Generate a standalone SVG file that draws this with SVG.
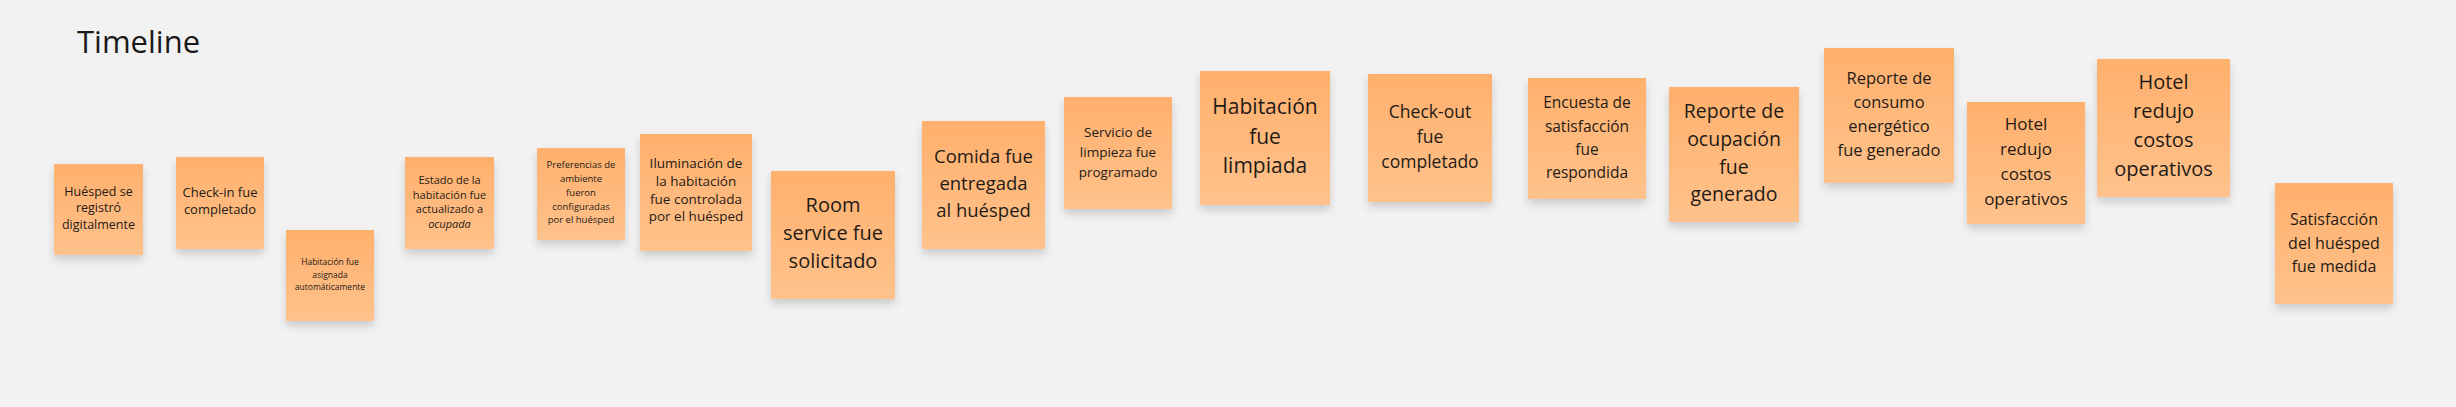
<svg xmlns="http://www.w3.org/2000/svg" width="2456" height="407" viewBox="0 0 2456 407">
<defs>
<linearGradient id="g" x1="0" y1="0" x2="0" y2="1">
<stop offset="0" stop-color="#ffb06c"/>
<stop offset="1" stop-color="#ffc28c"/>
</linearGradient>
<filter id="sh" x="-20%" y="-20%" width="140%" height="150%">
<feDropShadow dx="0" dy="5" stdDeviation="4" flood-color="#000" flood-opacity="0.16"/>
</filter>
</defs>
<style>
.n{fill:url(#g);filter:url(#sh)}
text{font-family:"Open Sans","Noto Sans","DejaVu Sans",sans-serif;fill:#1f1b17;text-anchor:middle}
.t{text-anchor:start;fill:#1a1a1a}
</style>
<rect width="2456" height="407" fill="#f2f2f2"/>
<text class="t" x="77" y="53" font-size="31">Timeline</text>
<g id="connectors"/>
<g id="n1"><rect class="n" x="54" y="164" width="89" height="91"/><text font-size="12.5"><tspan x="98.5" y="196">Huésped se</tspan><tspan x="98.5" y="212">registró</tspan><tspan x="98.5" y="229">digitalmente</tspan></text></g>
<g id="n2"><rect class="n" x="176" y="157" width="88" height="92"/><text font-size="13"><tspan x="220" y="197">Check-in fue</tspan><tspan x="220" y="214">completado</tspan></text></g>
<g id="n3"><rect class="n" x="286" y="230" width="88" height="91"/><text font-size="8.5"><tspan x="330" y="265">Habitación fue</tspan><tspan x="330" y="277.5">asignada</tspan><tspan x="330" y="290">automáticamente</tspan></text></g>
<g id="n4"><rect class="n" x="405" y="157" width="89" height="92"/><text font-size="11"><tspan x="449.5" y="184">Estado de la</tspan><tspan x="449.5" y="198.5">habitación fue</tspan><tspan x="449.5" y="213">actualizado a</tspan><tspan x="449.5" y="227.5" font-style="italic">ocupada</tspan></text></g>
<g id="n5"><rect class="n" x="537" y="148" width="88" height="92"/><text font-size="9.5"><tspan x="581" y="168">Preferencias de</tspan><tspan x="581" y="182">ambiente</tspan><tspan x="581" y="196">fueron</tspan><tspan x="581" y="210">configuradas</tspan><tspan x="581" y="223">por el huésped</tspan></text></g>
<g id="n6"><rect class="n" x="640" y="134" width="112" height="117"/><text font-size="13.5"><tspan x="696" y="168">Iluminación de</tspan><tspan x="696" y="186">la habitación</tspan><tspan x="696" y="204">fue controlada</tspan><tspan x="696" y="221">por el huésped</tspan></text></g>
<g id="n7"><rect class="n" x="771" y="171" width="124" height="128"/><text font-size="20"><tspan x="833" y="212">Room</tspan><tspan x="833" y="240">service fue</tspan><tspan x="833" y="268">solicitado</tspan></text></g>
<g id="n8"><rect class="n" x="922" y="121" width="123" height="128"/><text font-size="18.5"><tspan x="983.5" y="163">Comida fue</tspan><tspan x="983.5" y="190">entregada</tspan><tspan x="983.5" y="217">al huésped</tspan></text></g>
<g id="n9"><rect class="n" x="1064" y="97" width="108" height="112"/><text font-size="13.5"><tspan x="1118" y="137">Servicio de</tspan><tspan x="1118" y="157">limpieza fue</tspan><tspan x="1118" y="177">programado</tspan></text></g>
<g id="n10"><rect class="n" x="1200" y="71" width="130" height="134"/><text font-size="21"><tspan x="1265" y="114">Habitación</tspan><tspan x="1265" y="143.5">fue</tspan><tspan x="1265" y="173">limpiada</tspan></text></g>
<g id="n11"><rect class="n" x="1368" y="74" width="124" height="128"/><text font-size="17.5"><tspan x="1430" y="118">Check-out</tspan><tspan x="1430" y="143">fue</tspan><tspan x="1430" y="168">completado</tspan></text></g>
<g id="n12"><rect class="n" x="1528" y="78" width="118" height="121"/><text font-size="15.5"><tspan x="1587" y="108">Encuesta de</tspan><tspan x="1587" y="131.5">satisfacción</tspan><tspan x="1587" y="155">fue</tspan><tspan x="1587" y="178">respondida</tspan></text></g>
<g id="n13"><rect class="n" x="1669" y="87" width="130" height="135"/><text font-size="19.5"><tspan x="1734" y="118">Reporte de</tspan><tspan x="1734" y="146">ocupación</tspan><tspan x="1734" y="173.5">fue</tspan><tspan x="1734" y="201">generado</tspan></text></g>
<g id="n14"><rect class="n" x="1824" y="48" width="130" height="135"/><text font-size="16.5"><tspan x="1889" y="84">Reporte de</tspan><tspan x="1889" y="108">consumo</tspan><tspan x="1889" y="132">energético</tspan><tspan x="1889" y="156">fue generado</tspan></text></g>
<g id="n15"><rect class="n" x="1967" y="102" width="118" height="122"/><text font-size="17"><tspan x="2026" y="130">Hotel</tspan><tspan x="2026" y="155">redujo</tspan><tspan x="2026" y="180">costos</tspan><tspan x="2026" y="205">operativos</tspan></text></g>
<g id="n16"><rect class="n" x="2097" y="59" width="133" height="138"/><text font-size="20"><tspan x="2163.5" y="89">Hotel</tspan><tspan x="2163.5" y="118">redujo</tspan><tspan x="2163.5" y="147">costos</tspan><tspan x="2163.5" y="176">operativos</tspan></text></g>
<g id="n17"><rect class="n" x="2275" y="183" width="118" height="121"/><text font-size="16"><tspan x="2334" y="225">Satisfacción</tspan><tspan x="2334" y="249">del huésped</tspan><tspan x="2334" y="272">fue medida</tspan></text></g>
</svg>
